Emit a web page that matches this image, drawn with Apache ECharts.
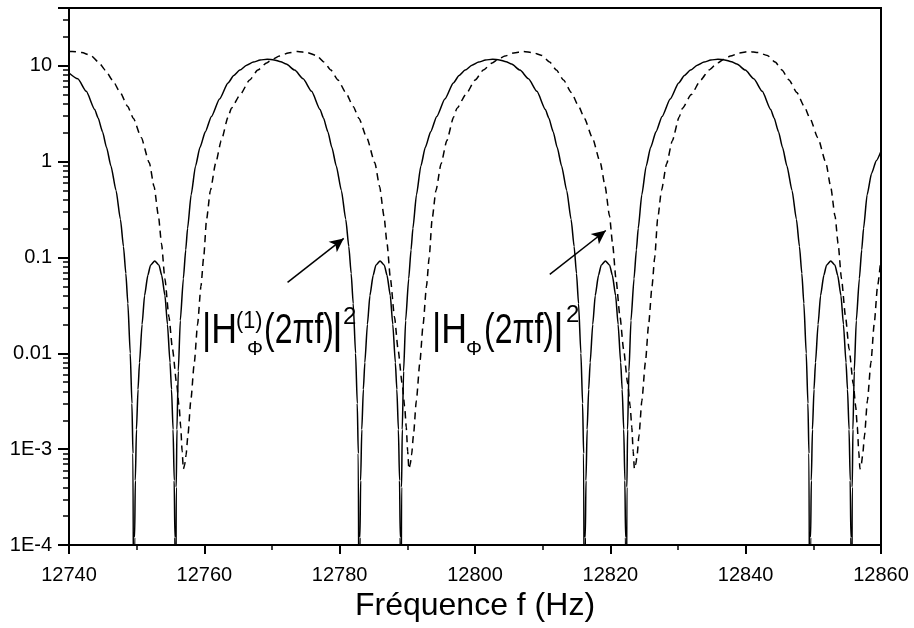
<!DOCTYPE html>
<html>
<head>
<meta charset="utf-8">
<script src="https://cdn.jsdelivr.net/npm/echarts@6/dist/echarts.min.js"></script>
<style>
  html, body { margin: 0; padding: 0; background: #fff; }
  #chart { width: 914px; height: 628px; }
</style>
</head>
<body>
<div id="chart"></div>
<script>
// |H_phi^(1)(2 pi f)|^2 (solid)
const solidFreq = [
  12740.00, 12741.30, 12742.55, 12743.80, 12744.30, 12744.95, 12745.55, 12746.20, 12746.95, 12747.60,
  12748.05, 12748.40, 12748.70, 12749.05, 12749.30, 12749.45, 12749.60,
  12749.70, 12749.80, 12749.97, 12750.20, 12750.42, 12750.80, 12751.17, 12751.65, 12752.05, 12752.67,
  12753.30, 12753.70, 12754.18, 12754.55, 12754.93, 12755.15, 12755.38, 12755.55, 12755.65,

  12755.75, 12755.85, 12755.95, 12756.15, 12756.45, 12756.90, 12757.25, 12757.52, 12758.05, 12758.70,
  12759.35, 12760.15, 12761.05, 12762.25, 12763.50, 12764.35, 12765.25, 12766.25, 12767.25, 12768.25,
  12769.30, 12770.30, 12771.30, 12772.10, 12773.35, 12774.60, 12775.85, 12777.10, 12777.60, 12778.25,
  12778.85, 12779.50, 12780.25, 12780.90, 12781.35, 12781.70, 12782.00, 12782.35, 12782.60, 12782.75,
  12782.90,
  12783.00, 12783.10, 12783.27, 12783.50, 12783.72, 12784.10, 12784.47, 12784.95, 12785.35, 12785.97,
  12786.60, 12787.00, 12787.48, 12787.85, 12788.23, 12788.45, 12788.68, 12788.85, 12788.95,

  12789.05, 12789.15, 12789.25, 12789.45, 12789.75, 12790.20, 12790.55, 12790.82, 12791.35, 12792.00,
  12792.65, 12793.45, 12794.35, 12795.55, 12796.80, 12797.65, 12798.55, 12799.55, 12800.55, 12801.55,
  12802.60, 12803.60, 12804.60, 12805.40, 12806.65, 12807.90, 12809.15, 12810.40, 12810.90, 12811.55,
  12812.15, 12812.80, 12813.55, 12814.20, 12814.65, 12815.00, 12815.30, 12815.65, 12815.90, 12816.05,
  12816.20,
  12816.30, 12816.40, 12816.57, 12816.80, 12817.02, 12817.40, 12817.77, 12818.25, 12818.65, 12819.27,
  12819.90, 12820.30, 12820.78, 12821.15, 12821.53, 12821.75, 12821.98, 12822.15, 12822.25,

  12822.35, 12822.45, 12822.55, 12822.75, 12823.05, 12823.50, 12823.85, 12824.12, 12824.65, 12825.30,
  12825.95, 12826.75, 12827.65, 12828.85, 12830.10, 12830.95, 12831.85, 12832.85, 12833.85, 12834.85,
  12835.90, 12836.90, 12837.90, 12838.70, 12839.95, 12841.20, 12842.45, 12843.70, 12844.20, 12844.85,
  12845.45, 12846.10, 12846.85, 12847.50, 12847.95, 12848.30, 12848.60, 12848.95, 12849.20, 12849.35,
  12849.50,
  12849.60, 12849.70, 12849.87, 12850.10, 12850.32, 12850.70, 12851.07, 12851.55, 12851.95, 12852.57,
  12853.20, 12853.60, 12854.08, 12854.45, 12854.83, 12855.05, 12855.28, 12855.45, 12855.55,

  12855.65, 12855.75, 12855.85, 12856.05, 12856.35, 12856.80, 12857.15, 12857.42, 12857.95, 12858.60,
  12859.30, 12860.00
];
const solidVal = [
  8.4, 7.3, 5.4, 3.5, 2.85, 2.05, 1.4, 0.9, 0.5, 0.25,
  0.13, 0.068, 0.033, 0.01, 0.003, 0.0009, 1e-6,
  0.00012, 0.00047, 0.0016, 0.0042, 0.008, 0.02, 0.04, 0.065, 0.083, 0.092,
  0.083, 0.065, 0.04, 0.02, 0.008, 0.0042, 0.0016, 0.00047, 0.00012,

  1e-6, 0.0004, 0.0016, 0.0065, 0.022, 0.06, 0.12, 0.2, 0.45, 0.9,
  1.4, 2.05, 2.96, 4.5, 6.6, 7.9, 9.0, 10.1, 10.9, 11.45,
  11.7, 11.5, 11.0, 10.4, 9.0, 7.3, 5.4, 3.5, 2.85, 2.05,
  1.4, 0.9, 0.5, 0.25, 0.13, 0.068, 0.033, 0.01, 0.003, 0.0009,
  1e-6,
  0.00012, 0.00047, 0.0016, 0.0042, 0.008, 0.02, 0.04, 0.065, 0.083, 0.092,
  0.083, 0.065, 0.04, 0.02, 0.008, 0.0042, 0.0016, 0.00047, 0.00012,

  1e-6, 0.0004, 0.0016, 0.0065, 0.022, 0.06, 0.12, 0.2, 0.45, 0.9,
  1.4, 2.05, 2.96, 4.5, 6.6, 7.9, 9.0, 10.1, 10.9, 11.45,
  11.7, 11.5, 11.0, 10.4, 9.0, 7.3, 5.4, 3.5, 2.85, 2.05,
  1.4, 0.9, 0.5, 0.25, 0.13, 0.068, 0.033, 0.01, 0.003, 0.0009,
  1e-6,
  0.00012, 0.00047, 0.0016, 0.0042, 0.008, 0.02, 0.04, 0.065, 0.083, 0.092,
  0.083, 0.065, 0.04, 0.02, 0.008, 0.0042, 0.0016, 0.00047, 0.00012,

  1e-6, 0.0004, 0.0016, 0.0065, 0.022, 0.06, 0.12, 0.2, 0.45, 0.9,
  1.4, 2.05, 2.96, 4.5, 6.6, 7.9, 9.0, 10.1, 10.9, 11.45,
  11.7, 11.5, 11.0, 10.4, 9.0, 7.3, 5.4, 3.5, 2.85, 2.05,
  1.4, 0.9, 0.5, 0.25, 0.13, 0.068, 0.033, 0.01, 0.003, 0.0009,
  1e-6,
  0.00012, 0.00047, 0.0016, 0.0042, 0.008, 0.02, 0.04, 0.065, 0.083, 0.092,
  0.083, 0.065, 0.04, 0.02, 0.008, 0.0042, 0.0016, 0.00047, 0.00012,

  1e-6, 0.0004, 0.0016, 0.0065, 0.022, 0.06, 0.12, 0.2, 0.45, 0.75,
  1.02, 1.28
];

// |H_phi(2 pi f)|^2 (dashed)
const dashFreq = [
  12740.00, 12740.47, 12741.87, 12743.22, 12744.37, 12745.37, 12746.42, 12747.57, 12748.67, 12749.52,
  12750.67, 12751.87, 12752.57, 12753.22, 12753.67, 12754.17, 12754.77, 12755.30, 12755.91, 12756.27,
  12756.51, 12756.72,

  12756.90, 12757.10, 12757.30, 12757.57, 12758.00, 12758.52, 12759.00, 12759.50, 12759.90, 12760.33,
  12760.90, 12761.66, 12762.50, 12763.50, 12764.00, 12765.30, 12766.70, 12767.90, 12769.20, 12770.10,
  12771.10, 12772.40, 12773.80, 12775.20, 12776.55, 12777.70, 12778.70, 12779.75, 12780.90, 12782.00,
  12782.85, 12784.00, 12785.20, 12785.90, 12786.55, 12787.00, 12787.50, 12788.10, 12788.63, 12789.24,
  12789.60, 12789.84, 12790.05,

  12790.23, 12790.43, 12790.63, 12790.90, 12791.33, 12791.85, 12792.33, 12792.83, 12793.23, 12793.66,
  12794.23, 12794.99, 12795.83, 12796.83, 12797.33, 12798.63, 12800.03, 12801.23, 12802.53, 12803.43,
  12804.43, 12805.73, 12807.13, 12808.53, 12809.88, 12811.03, 12812.03, 12813.08, 12814.23, 12815.33,
  12816.18, 12817.33, 12818.53, 12819.23, 12819.88, 12820.33, 12820.83, 12821.43, 12821.96, 12822.57,
  12822.93, 12823.17, 12823.38,

  12823.56, 12823.76, 12823.96, 12824.23, 12824.66, 12825.18, 12825.66, 12826.16, 12826.56, 12826.99,
  12827.56, 12828.32, 12829.16, 12830.16, 12830.66, 12831.96, 12833.36, 12834.56, 12835.86, 12836.76,
  12837.76, 12839.06, 12840.46, 12841.86, 12843.21, 12844.36, 12845.36, 12846.41, 12847.56, 12848.66,
  12849.51, 12850.66, 12851.86, 12852.56, 12853.21, 12853.66, 12854.16, 12854.76, 12855.29, 12855.90,
  12856.26, 12856.50, 12856.71,

  12856.89, 12857.09, 12857.29, 12857.56, 12857.99, 12858.51, 12858.99, 12859.49, 12860.00
];
const dashVal = [
  14.05, 14.1, 13.7, 12.8, 10.9, 9.0, 7.1, 5.25, 3.76, 2.82,
  1.78, 0.97, 0.55, 0.27, 0.14, 0.06, 0.024, 0.011, 0.0048, 0.0028,
  0.0017, 0.00095,

  0.00062, 0.00069, 0.00087, 0.00138, 0.0032, 0.008, 0.02, 0.05, 0.1, 0.25,
  0.5, 0.95, 1.65, 2.9, 3.6, 5.0, 7.1, 9.0, 10.7, 11.7,
  12.6, 13.6, 14.1, 13.7, 12.8, 10.9, 9.0, 7.1, 5.25, 3.76,
  2.82, 1.78, 0.97, 0.55, 0.27, 0.14, 0.06, 0.024, 0.011, 0.0048,
  0.0028, 0.0017, 0.00095,

  0.00062, 0.00069, 0.00087, 0.00138, 0.0032, 0.008, 0.02, 0.05, 0.1, 0.25,
  0.5, 0.95, 1.65, 2.9, 3.6, 5.0, 7.1, 9.0, 10.7, 11.7,
  12.6, 13.6, 14.1, 13.7, 12.8, 10.9, 9.0, 7.1, 5.25, 3.76,
  2.82, 1.78, 0.97, 0.55, 0.27, 0.14, 0.06, 0.024, 0.011, 0.0048,
  0.0028, 0.0017, 0.00095,

  0.00062, 0.00069, 0.00087, 0.00138, 0.0032, 0.008, 0.02, 0.05, 0.1, 0.25,
  0.5, 0.95, 1.65, 2.9, 3.6, 5.0, 7.1, 9.0, 10.7, 11.7,
  12.6, 13.6, 14.1, 13.7, 12.8, 10.9, 9.0, 7.1, 5.25, 3.76,
  2.82, 1.78, 0.97, 0.55, 0.27, 0.14, 0.06, 0.024, 0.011, 0.0048,
  0.0028, 0.0017, 0.00095,

  0.00062, 0.00069, 0.00087, 0.00138, 0.0032, 0.008, 0.02, 0.05, 0.1
];

const yTickValues = [1e-4, 1e-3, 0.01, 0.1, 1, 10];
const yTickLabels = ["1E-4", "1E-3", "0.01", "0.1", "1", "10"];

// arrows pointing at the two curves: [tail, head] in data units
const arrowSolid = [[12772.3, 0.055], [12780.6, 0.158]];
const arrowDash = [[12811.05, 0.0665], [12819.33, 0.191]];

const FONT = "'Liberation Sans', Arial, sans-serif";

const chart = echarts.init(document.getElementById("chart"));

function arrowLine(pts) {
  return [{ coord: pts[0] }, { coord: pts[1] }];
}

// one piece of the formula labels; sx squeezes the glyphs like the original
function mathText(x, y, text, size, sx, align) {
  return {
    type: "text",
    x: x,
    y: y,
    scaleX: sx || 1,
    silent: true,
    style: {
      text: text,
      font: size + "px " + FONT,
      fill: "#000",
      textAlign: align || "left",
      textVerticalAlign: "middle",
    },
  };
}

chart.setOption({
  animation: false,
  backgroundColor: "#fff",
  grid: {
    left: 69,
    right: 33,
    top: 8,
    bottom: 83,
    show: true,
    borderColor: "#000",
    borderWidth: 2,
    backgroundColor: "transparent",
  },
  xAxis: {
    type: "value",
    min: 12740,
    max: 12860,
    interval: 20,
    name: "Fréquence f (Hz)",
    nameLocation: "middle",
    nameGap: 42,
    nameTextStyle: { fontFamily: FONT, fontSize: 32, color: "#000" },
    axisLine: { lineStyle: { color: "#000", width: 2 } },
    axisTick: { inside: false, length: 9, lineStyle: { color: "#000", width: 2 } },
    minorTick: { show: true, splitNumber: 2, length: 5, lineStyle: { color: "#000", width: 1.5 } },
    axisLabel: {
      fontFamily: FONT,
      fontSize: 20,
      color: "#000",
      margin: 20,
      formatter: (v) => String(v),
    },
    splitLine: { show: false },
  },
  yAxis: {
    type: "log",
    logBase: 10,
    min: 1e-4,
    max: 40,
    axisLine: { lineStyle: { color: "#000", width: 2 } },
    axisTick: { inside: false, length: 11, lineStyle: { color: "#000", width: 2 } },
    minorTick: { show: true, splitNumber: 9, length: 6, lineStyle: { color: "#000", width: 1.5 } },
    axisLabel: {
      fontFamily: FONT,
      fontSize: 20,
      color: "#000",
      margin: 17,
      formatter: function (v) {
        const i = yTickValues.findIndex(
          (t) => Math.abs(Math.log10(t) - Math.log10(v)) < 1e-6
        );
        return i >= 0 ? yTickLabels[i] : "";
      },
    },
    splitLine: { show: false },
  },
  series: [
    {
      name: "H1",
      type: "line",
      data: solidFreq.map((f, i) => [f, solidVal[i]]),
      showSymbol: false,
      smooth: 0.2,
      smoothMonotone: "x",
      clip: true,
      lineStyle: { color: "#000", width: 1.5 },
      markLine: {
        silent: true,
        symbol: ["none", "arrow"],
        symbolSize: [10, 14],
        label: { show: false },
        lineStyle: { color: "#000", width: 1.5, type: "solid" },
        data: [arrowLine(arrowSolid), arrowLine(arrowDash)],
      },
    },
    {
      name: "H",
      type: "line",
      data: dashFreq.map((f, i) => [f, dashVal[i]]),
      showSymbol: false,
      smooth: 0.2,
      smoothMonotone: "x",
      clip: true,
      lineStyle: { color: "#000", width: 1.5, type: [7, 5] },
    },
  ],
  graphic: [
    mathText(202, 331, "|H", 42, 0.85),
    mathText(236, 321, "(1)", 24, 0.9),
    mathText(255, 349, "Φ", 20, 1, "center"),
    mathText(264, 331, "(2πf)", 42, 0.76),
    mathText(332, 331, "|", 42),
    mathText(343, 317, "2", 24),

    mathText(432, 331, "|H", 42, 0.85),
    mathText(474, 349, "Φ", 20, 1, "center"),
    mathText(484, 331, "(2πf)", 42, 0.76),
    mathText(553, 331, "|", 42),
    mathText(566, 315, "2", 24),
  ],
});
</script>
</body>
</html>
